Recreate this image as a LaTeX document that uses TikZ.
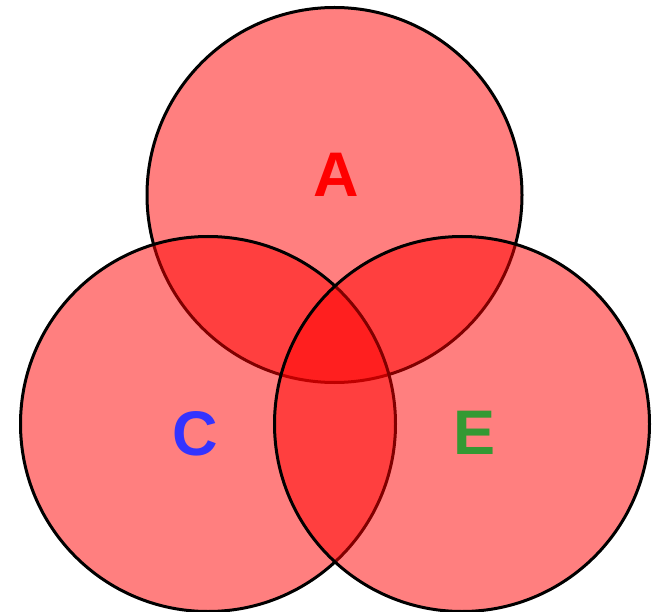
\documentclass[tikz,border=0pt]{standalone}
\usepackage{fontspec}
\setmainfont{Liberation Sans}
\usepackage{xcolor}
\usetikzlibrary{positioning}
\definecolor{vennred}{HTML}{FF0000}
\definecolor{vennblue}{HTML}{3333FF}
\definecolor{venngreen}{HTML}{339933}

\begin{document}
\begin{tikzpicture}[x=1pt,y=-1pt,
  setcircle/.style={circle,draw=black,line width=3pt,fill=vennred,fill opacity=0.5,
    minimum size=375pt,inner sep=0pt},
  setlabel/.style={font=\fontsize{63}{63}\selectfont\bfseries}]
  \useasboundingbox (0,0) rectangle (653,612);
  \node[setcircle] (setA) at (334.5,195) {};
  \node[setcircle] (setC) at (208,424) {};
  \node[setcircle] (setE) at (462,424) {};
  \node[setlabel,text=vennred] (labA) at (336.5,175) {A};
  \node[setlabel,text=vennblue] (labC) at (195,434) {C};
  \node[setlabel,text=venngreen] (labE) at (475,433) {E};
\end{tikzpicture}
\end{document}
